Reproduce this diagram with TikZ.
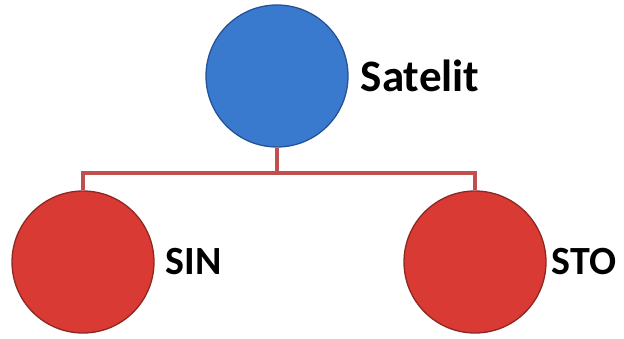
\documentclass[tikz,border=0pt]{standalone}
\usepackage{fontspec}
\setmainfont{Carlito}
\usepackage{tikz}
\usetikzlibrary{positioning,calc}
\definecolor{satblue}{RGB}{58,122,206}
\definecolor{satblueedge}{RGB}{38,82,150}
\definecolor{nodered}{RGB}{218,58,52}
\definecolor{noderededge}{RGB}{140,40,36}
\definecolor{linkred}{RGB}{192,80,77}

\begin{document}
\begin{tikzpicture}[x=1pt,y=-1pt,node distance=11pt,every node/.style={font=\bfseries}]
\tikzstyle{ball}=[circle,minimum size=142pt,inner sep=0pt,line width=1.3pt]
\tikzstyle{lbl}=[inner sep=0pt,anchor=west]
\tikzstyle{link}=[linkred,line width=4pt]
\useasboundingbox (0,0) rectangle (624,338);
\node[ball,draw=satblueedge,fill=satblue] (sat) at (277,76) {};
\node[ball,draw=noderededge,fill=nodered] (sin) at (83,262) {};
\node[ball,draw=noderededge,fill=nodered] (sto) at (475,262) {};
\node[lbl,right=12pt of sat,font=\fontsize{45}{54}\selectfont\bfseries] (satlbl) {Satelit};
\node[lbl,right=11pt of sin,font=\fontsize{40}{48}\selectfont\bfseries] (sinlbl) {SIN};
\node[lbl,right=5pt of sto,font=\fontsize{40}{48}\selectfont\bfseries] (stolbl) {STO};
% connectors
\draw[link] (sat.south) -- ++(0,25) coordinate (j) -| (sin.north);
\draw[link] (j) -| (sto.north);
\end{tikzpicture}
\end{document}
